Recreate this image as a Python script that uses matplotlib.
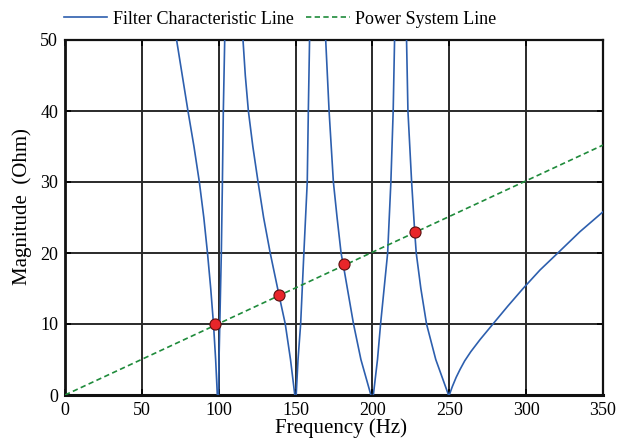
import numpy as np
import matplotlib
matplotlib.use("Agg")
import matplotlib.pyplot as plt

plt.rcParams['font.family'] = ['Liberation Serif', 'DejaVu Serif']

# filter characteristic, read branch by branch (Hz, Ohm)
filt_x = [
    [72.6, 76.3, 80.0, 83.9, 87.4, 90.3, 92.7, 94.8, 96.6, 98.0, 99.1],
    [99.8, 100.2, 100.7, 101.7, 102.4, 103.0, 103.9],
    [115.8, 117.3, 119.3, 122.2, 125.6, 129.2, 133.5, 139.3, 143.3, 146.7, 149.5],
    [150.4, 151.6, 153.3, 155.4, 157.6, 158.3, 159.1],
    [169.6, 171.8, 174.6, 177.0, 179.6, 181.3, 184.5, 187.7, 192.5, 199.0],
    [200.6, 203.3, 205.3, 209.9, 212.0, 213.5, 214.4],
    [222.2, 223.1, 225.5, 227.5, 228.5, 231.5, 235.2, 241.2, 249.5],
    [250.0, 252.0, 254.5, 257.0, 260.0, 264.0, 270.0, 278.4, 288.0, 298.0, 309.0, 320.6, 335.0, 350.0],
]
filt_y = [
    [50, 45, 40, 35, 30, 25, 20, 15, 10, 5, 0],
    [0, 5, 10, 20, 30, 40, 50],
    [50, 45, 40, 35, 30, 25, 20, 14, 10, 5, 0],
    [0, 5, 10, 20, 30, 40, 50],
    [50, 40, 30, 25, 20, 18, 14, 10, 5, 0],
    [0, 5, 10, 20, 30, 40, 50],
    [50, 40, 30, 23, 20, 15, 10, 5, 0],
    [0, 1.2, 2.5, 3.6, 4.8, 6.1, 7.8, 10, 12.5, 15, 17.6, 20, 23.0, 25.8],
]

# power system line
sys_x = [0, 350]
sys_y = [0, 35.2]

# intersection points
pts_x = [97.4, 139.5, 181.3, 227.6]
pts_y = [10.0, 14.1, 18.5, 23.0]

fig = plt.figure(figsize=(6.21, 4.4), dpi=100)
ax = fig.add_axes([65/621, 1-395/440, (603-65)/621, (395-40)/440])

blue = '#2d5fae'
for i, (bx, by) in enumerate(zip(filt_x, filt_y)):
    ax.plot(bx, by, color=blue, lw=1.2, label='Filter Characteristic Line' if i == 0 else None, zorder=3)
ax.plot(sys_x, sys_y, color='#1f8b3b', lw=1.2, ls=(0, (3.2, 2.0)), label='Power System Line', zorder=3)
ax.plot(pts_x, pts_y, 'o', ms=8, mfc='#e8262a', mec='#5a1010', mew=0.8, ls='none', zorder=4)

ax.set_xlim(0, 350)
ax.set_ylim(0, 50)
ax.set_xticks(np.arange(0, 351, 50))
ax.set_yticks(np.arange(0, 51, 10))
ax.grid(True, color='#2a2a2a', lw=1.4)
ax.set_axisbelow(True)
for s in ax.spines.values():
    s.set_linewidth(1.6)
    s.set_color('#111111')
ax.spines['bottom'].set_linewidth(2.2)
ax.spines['left'].set_linewidth(2.0)
ax.tick_params(direction='in', top=True, right=True, length=4, width=1.2, labelsize=13, pad=5)

ax.set_xlabel('Frequency (Hz)', fontsize=15, labelpad=-1)
ax.set_ylabel('Magnitude  (Ohm)', fontsize=15, labelpad=4)
ax.xaxis.set_label_coords(0.513, -0.065)
ax.yaxis.set_label_coords(-0.061, 0.53)

fig.legend(loc='center', bbox_to_anchor=(0.451, 1-19/440), ncol=2, frameon=False,
           fontsize=13, handlelength=2.4, handletextpad=0.3, columnspacing=0.7)

fig.savefig('out.png', dpi=100)
